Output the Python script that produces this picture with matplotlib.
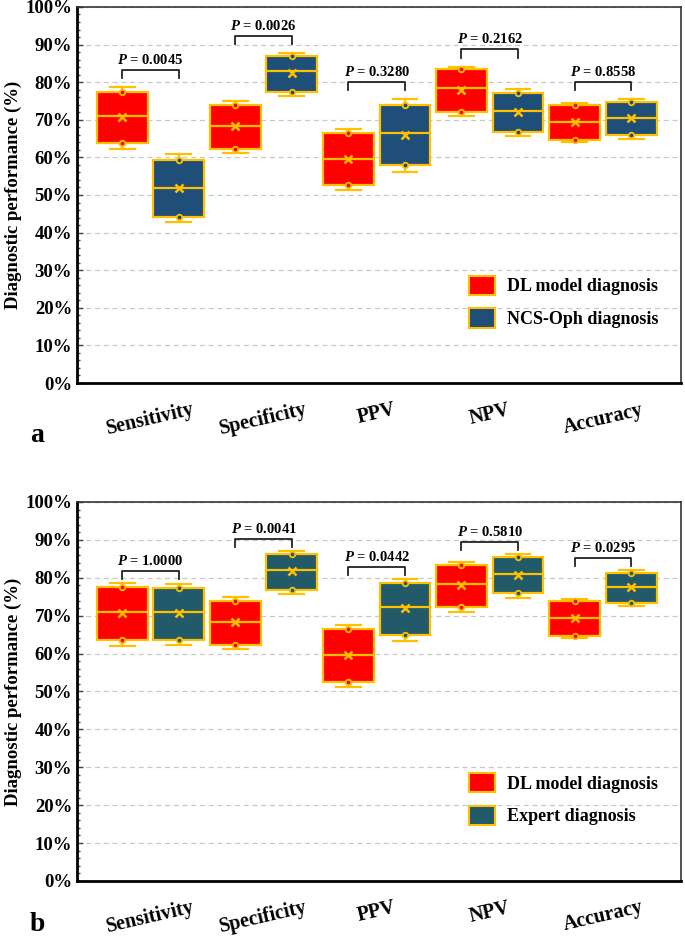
import matplotlib
matplotlib.use("Agg")
import matplotlib.pyplot as plt
from matplotlib.patches import Patch
from matplotlib.ticker import MultipleLocator, PercentFormatter

plt.rcParams['font.family'] = ['Liberation Serif', 'DejaVu Serif']
plt.rcParams['font.weight'] = 'bold'
plt.rcParams['mathtext.fontset'] = 'custom'
plt.rcParams['mathtext.it'] = 'Liberation Serif:italic:bold'
plt.rcParams['mathtext.rm'] = 'Liberation Serif:bold'

categories = ['Sensitivity', 'Specificity', 'PPV', 'NPV', 'Accuracy']

# box stats (%): whisker low, Q1, median, mean, Q3, whisker high
dl_lo = [62.1, 61.2, 51.2, 71.0, 64.0]
dl_q1 = [63.7, 62.3, 52.6, 72.2, 64.7]
dl_med = [71.0, 68.4, 59.6, 78.4, 69.5]
dl_mean = [70.8, 68.3, 59.5, 78.0, 69.3]
dl_q3 = [77.5, 73.9, 66.4, 83.4, 73.8]
dl_hi = [78.6, 74.9, 67.5, 84.1, 74.5]

ncs_lo = [42.8, 76.4, 56.0, 65.8, 65.0]
ncs_q1 = [44.2, 77.5, 57.9, 66.8, 65.9]
ncs_med = [51.8, 82.9, 66.4, 72.4, 70.6]
ncs_mean = [51.8, 82.4, 65.9, 72.1, 70.4]
ncs_q3 = [59.3, 87.0, 73.9, 77.2, 74.7]
ncs_hi = [60.8, 87.8, 75.4, 78.1, 75.5]
p_ncs = ['0.0045', '0.0026', '0.3280', '0.2162', '0.8558']

exp_lo = [62.2, 75.8, 63.4, 74.7, 72.6]
exp_q1 = [63.6, 76.9, 65.0, 76.0, 73.4]
exp_med = [71.0, 82.1, 72.4, 81.1, 77.6]
exp_mean = [70.8, 81.8, 72.0, 80.8, 77.6]
exp_q3 = [77.4, 86.3, 78.6, 85.5, 81.3]
exp_hi = [78.4, 87.1, 79.7, 86.2, 82.1]
p_exp = ['1.0000', '0.0041', '0.0442', '0.5810', '0.0295']

GOLD = '#FFC000'
RED = '#FF0000'
NAVY = '#1F4E79'
TEAL = '#225A69'


def stats(lo, q1, med, mean, q3, hi):
    return [dict(whislo=a, q1=b, med=c, mean=d, q3=e, whishi=f, fliers=[])
            for a, b, c, d, e, f in zip(lo, q1, med, mean, q3, hi)]


def draw_boxes(ax, st, offset, color):
    pos = [i + 1 + offset for i in range(len(st))]
    ax.bxp(st, positions=pos, widths=0.45, patch_artist=True, showmeans=True,
           boxprops=dict(facecolor=color, edgecolor=GOLD, linewidth=1.6),
           medianprops=dict(color=GOLD, linewidth=1.6),
           whiskerprops=dict(color=GOLD, linewidth=1.6),
           capprops=dict(color=GOLD, linewidth=1.6), capwidths=0.22,
           meanprops=dict(marker='x', markeredgecolor=GOLD, markersize=6,
                          markeredgewidth=1.8), zorder=3)
    for p, s in zip(pos, st):
        ax.plot([p, p], [s['q1'], s['q3']], ls='none', marker='o', ms=4,
                mfc=color, mec=GOLD, mew=1.3, zorder=4)


def panel(ax, st1, st2, col2, pvals, name2, off):
    draw_boxes(ax, st1, -0.25, RED)
    draw_boxes(ax, st2, 0.25, col2)
    for i, pv in enumerate(pvals):
        top = max(st1[i]['whishi'], st2[i]['whishi']) + off
        x1, x2 = i + 1 - 0.25, i + 1 + 0.25
        ax.plot([x1, x1, x2, x2], [top - 2.2, top, top, top - 2.2],
                color='#222222', lw=1.3, zorder=5)
        ax.text(i + 1, top + 0.8, r'$P$ = ' + pv, ha='center', va='bottom',
                fontsize=10.5, fontweight='bold')
    ax.set_xlim(0.35, 5.69)
    ax.set_ylim(0, 100)
    ax.set_xticks(range(1, 6))
    ax.set_xticklabels(categories, rotation=13, fontsize=14.5, fontweight='bold')
    ax.tick_params(axis='x', length=0, pad=12)
    ax.yaxis.set_major_locator(MultipleLocator(10))
    ax.yaxis.set_minor_locator(MultipleLocator(2))
    ax.yaxis.set_major_formatter(PercentFormatter(decimals=0))
    ax.tick_params(axis='y', which='both', direction='in', labelsize=13.5,
                   width=1, color='#444444')
    ax.tick_params(axis='y', which='major', length=4)
    ax.tick_params(axis='y', which='minor', length=2.5)
    for lab in ax.get_yticklabels():
        lab.set_fontweight('bold')
    ax.grid(axis='y', ls=(0, (4, 3)), color='#C8C8C8', lw=0.9, zorder=0)
    ax.set_axisbelow(True)
    ax.set_ylabel('Diagnostic performance (%)', fontsize=13.5, fontweight='bold',
                  labelpad=2)
    ax.spines['left'].set_linewidth(2.0)
    ax.spines['bottom'].set_linewidth(2.0)
    ax.spines['top'].set_linewidth(1.2)
    ax.spines['right'].set_linewidth(1.2)
    ax.spines['top'].set_color('#333333')
    ax.spines['right'].set_color('#333333')
    handles = [Patch(facecolor=RED, edgecolor=GOLD, lw=1.5, label='DL model diagnosis'),
               Patch(facecolor=col2, edgecolor=GOLD, lw=1.5, label=name2)]
    ax.legend(handles=handles, loc='upper left', bbox_to_anchor=(0.649, 0.285),
              frameon=False, handlelength=1.45, handleheight=1.25,
              labelspacing=0.72, handletextpad=0.65, borderpad=0,
              borderaxespad=0, prop=dict(weight='bold', size=13))


fig = plt.figure(figsize=(6.85, 9.42), dpi=100)
ax1 = fig.add_axes([0.1124, 0.5934, 0.8816, 0.3992])
ax2 = fig.add_axes([0.1124, 0.0648, 0.8816, 0.4023])

panel(ax1, stats(dl_lo, dl_q1, dl_med, dl_mean, dl_q3, dl_hi),
      stats(ncs_lo, ncs_q1, ncs_med, ncs_mean, ncs_q3, ncs_hi),
      NAVY, p_ncs, 'NCS-Oph diagnosis', 4.6)
panel(ax2, stats(dl_lo, dl_q1, dl_med, dl_mean, dl_q3, dl_hi),
      stats(exp_lo, exp_q1, exp_med, exp_mean, exp_q3, exp_hi),
      TEAL, p_exp, 'Expert diagnosis', 3.2)

fig.text(0.044, 0.531, 'a', fontsize=20, fontweight='bold', va='baseline', ha='left')
fig.text(0.044, 0.012, 'b', fontsize=20, fontweight='bold', va='baseline', ha='left')

fig.savefig('out.png', dpi=100)
